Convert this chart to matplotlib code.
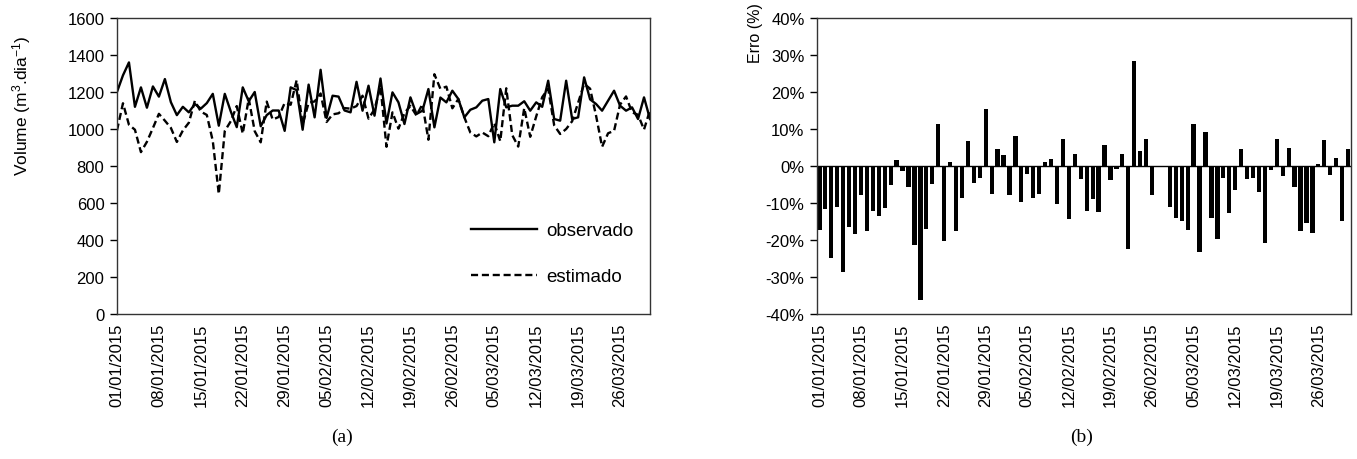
import numpy as np
import pandas as pd
import matplotlib
matplotlib.use("Agg")
import matplotlib.pyplot as plt
import matplotlib.dates as mdates
from matplotlib.ticker import FuncFormatter

plt.rcParams.update({
    "font.family": ["Liberation Sans", "DejaVu Sans"],
    "font.size": 12,
    "axes.unicode_minus": False,
    "mathtext.fontset": "custom",
    "mathtext.rm": "Liberation Sans",
    "mathtext.it": "Liberation Sans:italic",
})

dates = pd.date_range("2015-01-01", "2015-03-31", freq="D")

observado = [1200, 1290, 1360, 1120, 1225, 1115, 1230, 1175, 1270, 1145,
             1075, 1120, 1090, 1135, 1110, 1140, 1190, 1018, 1190, 1095,
             1010, 1225, 1150, 1200, 1015, 1075, 1100, 1100, 990, 1225,
             1210, 996, 1240, 1063, 1320, 1060, 1180, 1175, 1100, 1090,
             1255, 1099, 1234, 1072, 1273, 1030, 1198, 1144, 1027, 1171,
             1081, 1099, 1216, 1009, 1170, 1144, 1207, 1162, 1063, 1104,
             1117, 1153, 1162, 928, 1216, 1117, 1126, 1126, 1150, 1099,
             1144, 1120, 1261, 1054, 1045, 1261, 1054, 1063, 1279, 1160,
             1135, 1099, 1153, 1207, 1126, 1099, 1117, 1054, 1171, 1054]

estimado = [992, 1139, 1023, 996, 875, 931, 1005, 1082, 1045, 1006,
            930, 992, 1034, 1152, 1094, 1076, 935, 649, 989, 1042,
            1124, 975, 1164, 988, 928, 1148, 1051, 1065, 1141, 1131,
            1264, 1025, 1142, 1149, 1192, 1038, 1079, 1085, 1113, 1110,
            1124, 1180, 1056, 1106, 1230, 904, 1090, 1002, 1086, 1125,
            1073, 1134, 942, 1296, 1217, 1229, 1112, 1162, 1063, 981,
            960, 981, 961, 1033, 934, 1220, 967, 905, 1113, 958,
            1068, 1172, 1218, 1020, 973, 1000, 1042, 1142, 1244, 1218,
            1071, 904, 977, 990, 1132, 1176, 1090, 1077, 997, 1102]

erro = [-17.3, -11.7, -24.8, -11.1, -28.6, -16.5, -18.3, -7.9, -17.7, -12.1,
        -13.5, -11.4, -5.1, 1.5, -1.4, -5.6, -21.4, -36.2, -16.9, -4.8,
        11.3, -20.4, 1.2, -17.7, -8.6, 6.8, -4.5, -3.2, 15.3, -7.7,
        4.5, 2.9, -7.9, 8.1, -9.7, -2.1, -8.6, -7.7, 1.2, 1.8,
        -10.4, 7.4, -14.4, 3.2, -3.4, -12.2, -9.0, -12.4, 5.7, -3.9,
        -0.7, 3.2, -22.5, 28.4, 4.0, 7.4, -7.9, 0.0, 0.0, -11.1,
        -14.1, -14.9, -17.3, 11.3, -23.2, 9.2, -14.1, -19.6, -3.2, -12.8,
        -6.6, 4.6, -3.4, -3.2, -6.9, -20.7, -1.1, 7.4, -2.7, 5.0,
        -5.6, -17.7, -15.3, -18.0, 0.5, 7.0, -2.4, 2.2, -14.9, 4.6]

tick_dates = dates[::7]

fig = plt.figure(figsize=(13.57, 4.6), dpi=100)
ax1 = fig.add_axes([0.0862, 0.3152, 0.3928, 0.6435])
ax2 = fig.add_axes([0.6021, 0.3152, 0.3935, 0.6435])

# (a) observado x estimado
ax1.plot(dates, observado, color="black", lw=1.7, label="observado")
ax1.plot(dates, estimado, color="black", lw=1.7, ls=(0, (3.0, 1.6)), label="estimado")
ax1.set_xlim(dates[0], dates[-1])
ax1.set_ylim(0, 1600)
ax1.set_yticks(np.arange(0, 1601, 200))
ax1.set_xticks(tick_dates)
ax1.xaxis.set_major_formatter(mdates.DateFormatter("%d/%m/%Y"))
ax1.legend(loc="lower right", bbox_to_anchor=(1.0, 0.04), frameon=False, fontsize=13.5,
           handlelength=3.5, labelspacing=1.55, handletextpad=0.5)

# (b) erro
ax2.bar(dates, erro, width=0.72, color="black")
ax2.axhline(0, color="black", lw=1.0)
ax2.set_xlim(dates[0] - pd.Timedelta(hours=9.5), dates[-1] + pd.Timedelta(hours=12))
ax2.set_ylim(-40, 40)
ax2.set_yticks(np.arange(-40, 41, 10))
ax2.yaxis.set_major_formatter(FuncFormatter(lambda v, p: f"{v:.0f}%"))
ax2.set_xticks(tick_dates)
ax2.xaxis.set_major_formatter(mdates.DateFormatter("%d/%m/%Y"))

for ax in (ax1, ax2):
    for s in ax.spines.values():
        s.set_linewidth(1.0)
        s.set_color("#333333")
    ax.tick_params(axis="y", direction="out", length=5, width=1.0, labelsize=12, pad=4)
    ax.tick_params(axis="x", length=0, labelsize=12, pad=6, labelrotation=90)

fig.text(0.016, 0.77, r"Volume (m$^{3}$.dia$^{-1}$)", rotation=90, ha="center", va="center", fontsize=12.5)
fig.text(0.557, 0.928, "Erro (%)", rotation=90, ha="center", va="center", fontsize=11.5)
fig.text(0.252, 0.05, "(a)", ha="center", va="center", fontsize=14, family="Liberation Serif")
fig.text(0.797, 0.05, "(b)", ha="center", va="center", fontsize=14, family="Liberation Serif")

fig.savefig("out.png", dpi=100)
